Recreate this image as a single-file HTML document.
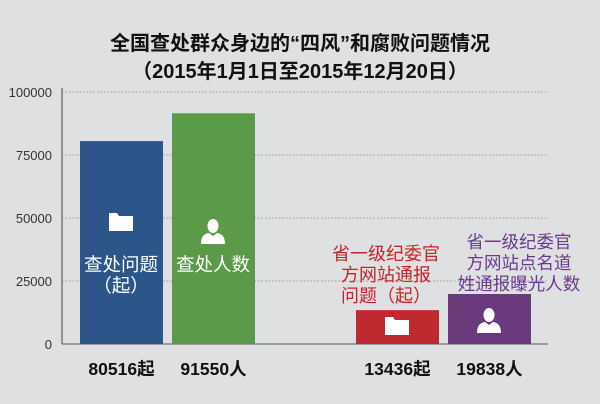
<!DOCTYPE html>
<html><head><meta charset="utf-8"><style>
body{margin:0;background:#dfe0e1;}
svg{display:block;font-family:"Liberation Sans","Noto Sans CJK SC",sans-serif;}
</style></head><body>
<svg id="c" width="600" height="404">
<text x="300" y="50" text-anchor="middle" font-size="20" font-weight="bold" fill="#111">全国查处群众身边的“四风”和腐败问题情况</text>
<text x="300" y="78" text-anchor="middle" font-size="20" font-weight="bold" fill="#111">（2015年1月1日至2015年12月20日）</text>
<g id="grid"></g><g id="bars"></g>
</svg>
<script>
const ticks=[0,25000,50000,75000,100000];
const values=[80516,91550,13436,19838];
const valueLabels=["80516起","91550人","13436起","19838人"];
const colors=["#2c5589","#5a9a48","#c0292e","#6b3a7d"];
const ns="http://www.w3.org/2000/svg";
const svg=document.getElementById('c'),grid=document.getElementById('grid'),bars=document.getElementById('bars');
const y0=344,yTop=92,yMax=100000;
const y=v=>y0-(v/yMax)*(y0-yTop);
const barX=[80,172,356,448],barW=83;
function mk(t,a,p){const e=document.createElementNS(ns,t);for(const k in a)e.setAttribute(k,a[k]);(p||svg).appendChild(e);return e;}
ticks.forEach(t=>{
 if(t>0){const l=mk('line',{x1:62,x2:548,y1:y(t),y2:y(t),stroke:'#999','stroke-dasharray':'1.5,2','stroke-width':1},grid);
 
 }
 const tx=mk('text',{x:52,y:y(t)+5,'text-anchor':'end','font-size':13,fill:'#333'},grid);tx.textContent=t;
 
 
});
const ax=mk('line',{x1:62,x2:62,y1:88,y2:y0,stroke:'#777','stroke-width':1.5},grid);


const bx=mk('line',{x1:62,x2:548,y1:y0,y2:y0,stroke:'#555','stroke-width':1},grid);


values.forEach((v,i)=>{
 const r=mk('rect',{x:barX[i],y:y(v),width:barW,height:y0-y(v),fill:colors[i]},bars);
 
 
 const t=mk('text',{x:barX[i]+barW/2,y:375,'text-anchor':'middle','font-size':17.5,'font-weight':'bold',fill:'#111'},bars);t.textContent=valueLabels[i];
 
 
});
function folder(cx,cy){const g=mk('g',{},bars);
 mk('path',{d:`M${cx-12} ${cy-9}h8l2 3h14v15h-24z`,fill:'#fff'},g);
 
 }
function person(cx,cy){const g=mk('g',{},bars);
 mk('ellipse',{cx:cx,cy:cy-6,rx:5.5,ry:7,fill:'#fff'},g);
 mk('path',{d:`M${cx-12} ${cy+12}q0-10 8-11l4 3l4-3q8 1 8 11z`,fill:'#fff'},g);
 
 }
folder(121,222);person(213,232);folder(397,326);person(489,321);
function lbl(lines,x,y0,color,size,name){lines.forEach((s,i)=>{const t=mk('text',{x:x,y:y0+i*21,'text-anchor':'middle','font-size':size,fill:color},bars);t.textContent=s;
 
 });}
lbl(["查处问题","（起）"],121,271,'#fff',18.5,'bar-label');
lbl(["查处人数"],213,271,'#fff',18.5,'bar-label');
lbl(["省一级纪委官","方网站通报","问题（起）"],386,260,'#c8232a',18,'bar-annotation');
lbl(["省一级纪委官","方网站点名道","姓通报曝光人数"],519,248,'#6b3a8e',17.5,'bar-annotation');
</script>
</body></html>
